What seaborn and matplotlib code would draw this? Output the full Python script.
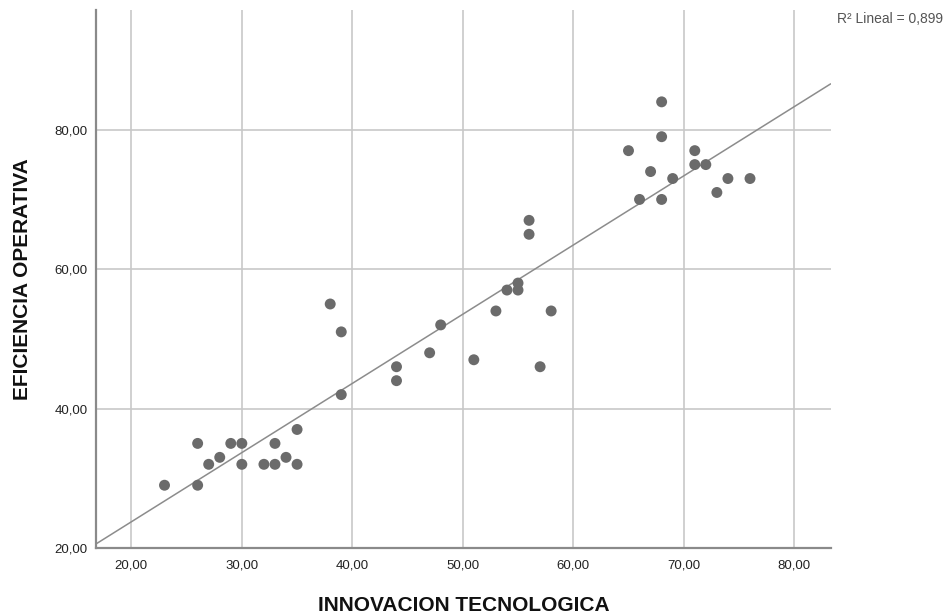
import matplotlib
matplotlib.use("Agg")
import matplotlib.pyplot as plt
import seaborn as sns
import pandas as pd
from matplotlib.ticker import FuncFormatter

# data
innovacion = [23, 26, 26, 27, 28, 29, 30, 30, 32, 33, 33, 34, 35, 35,
              38, 39, 39, 44, 44, 47, 48, 51, 53, 54, 55, 55, 56, 56,
              57, 58, 65, 66, 67, 68, 68, 68, 69, 71, 71, 72, 73, 74, 76]
eficiencia = [29, 35, 29, 32, 33, 35, 35, 32, 32, 35, 32, 33, 37, 32,
              55, 51, 42, 46, 44, 48, 52, 47, 54, 57, 58, 57, 67, 65,
              46, 54, 77, 70, 74, 84, 79, 70, 73, 77, 75, 75, 71, 73, 73]
x_ticks = [20, 30, 40, 50, 60, 70, 80]
y_ticks = [20, 40, 60, 80]

df = pd.DataFrame({"INNOVACION TECNOLOGICA": innovacion,
                   "EFICIENCIA OPERATIVA": eficiencia})

sns.set_style("white")
plt.rcParams['font.family'] = ['Liberation Sans', 'DejaVu Sans']

fig = plt.figure(figsize=(9.45, 6.15), dpi=100)
ax = fig.add_axes([0.1016, 0.109, 0.7774, 0.875])
ax.set_xlim(16.8, 83.3)
ax.set_ylim(20, 97.2)

# grid first so it sits below the marks
ax.set_xticks(x_ticks)
ax.set_yticks(y_ticks)
ax.grid(True, color="#c8c8c8", linewidth=1.2)
ax.set_axisbelow(True)

sns.scatterplot(data=df, x="INNOVACION TECNOLOGICA", y="EFICIENCIA OPERATIVA",
                color="#6b6b6b", s=62, edgecolor="none", ax=ax, zorder=3)
sns.regplot(data=df, x="INNOVACION TECNOLOGICA", y="EFICIENCIA OPERATIVA",
            scatter=False, ci=None, truncate=False, ax=ax,
            line_kws={"color": "#8c8c8c", "linewidth": 1.1, "zorder": 2})
ax.set_xlim(16.8, 83.3)
ax.set_ylim(20, 97.2)

fmt = FuncFormatter(lambda v, p: f"{v:.2f}".replace(".", ","))
ax.xaxis.set_major_formatter(fmt)
ax.yaxis.set_major_formatter(fmt)
ax.tick_params(axis="both", length=0, labelsize=9.5, colors="#222222")
ax.tick_params(axis="x", pad=8)
ax.tick_params(axis="y", pad=6)

for side in ["top", "right"]:
    ax.spines[side].set_visible(False)
for side in ["left", "bottom"]:
    ax.spines[side].set_color("#8a8a8a")
    ax.spines[side].set_linewidth(1.6)

ax.set_xlabel("INNOVACION TECNOLOGICA", fontsize=15, fontweight="bold",
              color="#111111", labelpad=18)
ax.set_ylabel("EFICIENCIA OPERATIVA", fontsize=15, fontweight="bold",
              color="#111111", labelpad=16)

fig.text(0.886, 0.969, "R² Lineal = 0,899", fontsize=10, color="#555555",
         ha="left", va="center")

fig.savefig("out.png", dpi=100)
